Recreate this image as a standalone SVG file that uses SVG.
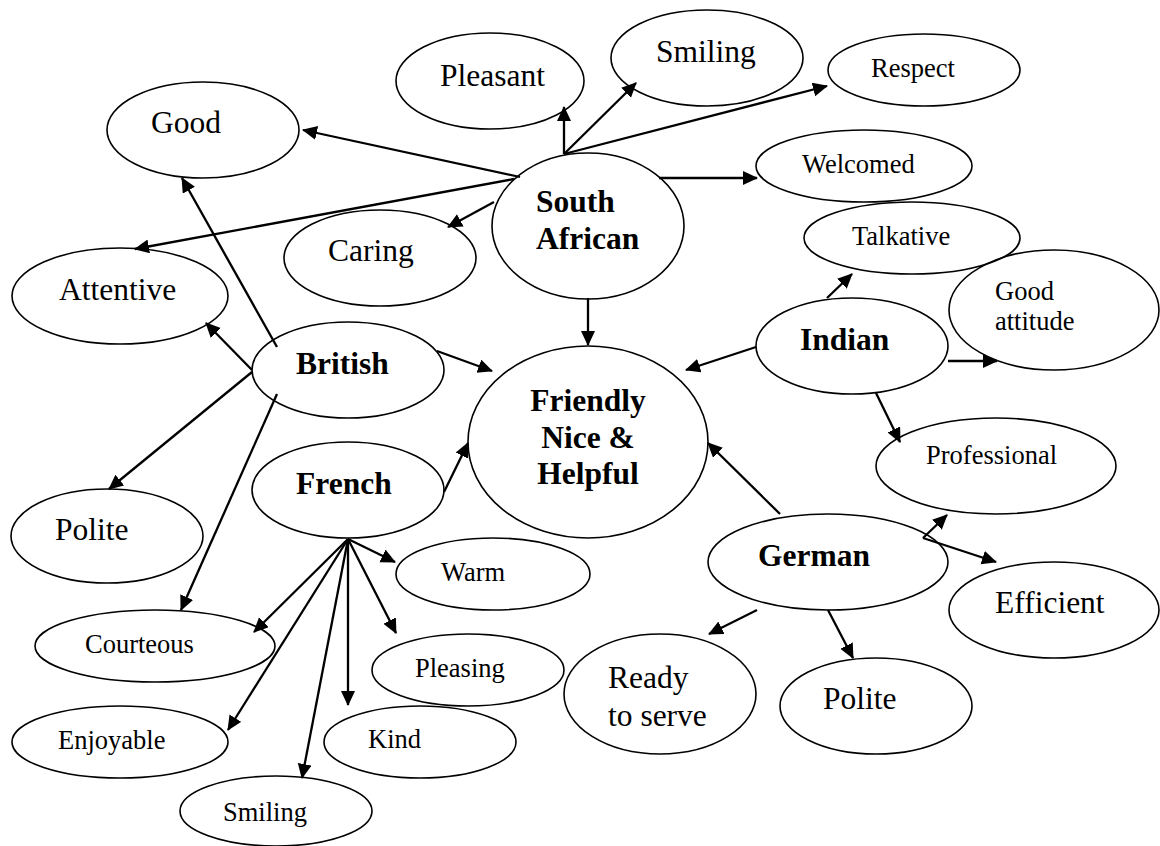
<svg xmlns="http://www.w3.org/2000/svg" width="1160" height="846" viewBox="0 0 1160 846">
  <style>
    .node ellipse { fill: none; stroke: #000; stroke-width: 1.6; }
    .lbl { font-family: "Liberation Serif", "Times New Roman", serif; fill: #000; }
    .big { font-size: 31.5px; }
    .small { font-size: 26.5px; }
    .bold { font-size: 31.5px; font-weight: bold; }
    .conn line { stroke: #000; stroke-width: 2.3; marker-end: url(#ah); }
  </style>
  <defs>
    <marker id="ah" markerUnits="userSpaceOnUse" markerWidth="16" markerHeight="16" refX="14" refY="7" orient="auto">
      <path d="M0,0 L15,7 L0,14 z" fill="#000"/>
    </marker>
  </defs>

  <!-- connectors -->
  <g id="connectors" class="conn">
    <!-- South African -->
    <line x1="564" y1="154" x2="564" y2="107"/>
    <line x1="564" y1="154" x2="636" y2="83"/>
    <line x1="564" y1="154" x2="827" y2="86"/>
    <line x1="659" y1="178" x2="757" y2="178"/>
    <line x1="520" y1="177" x2="303" y2="130"/>
    <line x1="514" y1="179" x2="135" y2="249"/>
    <line x1="494" y1="202" x2="448" y2="227"/>
    <line x1="588" y1="298" x2="588" y2="345"/>
    <!-- British -->
    <line x1="277" y1="347" x2="182" y2="178"/>
    <line x1="252" y1="370" x2="206" y2="323"/>
    <line x1="252" y1="372" x2="109" y2="489"/>
    <line x1="277" y1="394" x2="181" y2="610"/>
    <line x1="437" y1="351" x2="492" y2="371"/>
    <!-- French -->
    <line x1="444" y1="492" x2="468" y2="443"/>
    <line x1="348" y1="539" x2="395" y2="562"/>
    <line x1="348" y1="539" x2="396" y2="633"/>
    <line x1="348" y1="539" x2="348" y2="705"/>
    <line x1="348" y1="539" x2="302" y2="778"/>
    <line x1="348" y1="539" x2="228" y2="730"/>
    <line x1="348" y1="539" x2="254" y2="632"/>
    <!-- Indian -->
    <line x1="756" y1="347" x2="686" y2="370"/>
    <line x1="827" y1="298" x2="852" y2="274"/>
    <line x1="948" y1="361" x2="997" y2="361"/>
    <line x1="876" y1="393" x2="900" y2="442"/>
    <!-- German -->
    <line x1="780" y1="514" x2="708" y2="443"/>
    <line x1="923" y1="538" x2="947" y2="515"/>
    <line x1="923" y1="538" x2="996" y2="562"/>
    <line x1="757" y1="610" x2="709" y2="634"/>
    <line x1="828" y1="610" x2="853" y2="658"/>
  </g>

  <!-- nodes -->
  <g id="pleasant" class="node">
    <ellipse cx="490" cy="81" rx="94" ry="48"/>
    <text class="lbl big" x="440" y="86">Pleasant</text>
  </g>
  <g id="smiling-top" class="node">
    <ellipse cx="707" cy="58" rx="96" ry="48"/>
    <text class="lbl big" x="656" y="62">Smiling</text>
  </g>
  <g id="respect" class="node">
    <ellipse cx="924" cy="70" rx="96" ry="36"/>
    <text class="lbl small" x="871" y="77">Respect</text>
  </g>
  <g id="welcomed" class="node">
    <ellipse cx="864" cy="166" rx="108" ry="36"/>
    <text class="lbl small" x="802" y="173">Welcomed</text>
  </g>
  <g id="good" class="node">
    <ellipse cx="203" cy="130" rx="96" ry="48"/>
    <text class="lbl big" x="151" y="133">Good</text>
  </g>
  <g id="south-african" class="node">
    <ellipse cx="588" cy="226" rx="96" ry="73"/>
    <text class="lbl bold" x="536" y="212">South</text>
    <text class="lbl bold" x="536" y="249">African</text>
  </g>
  <g id="caring" class="node">
    <ellipse cx="380" cy="258" rx="96" ry="48"/>
    <text class="lbl big" x="328" y="261">Caring</text>
  </g>
  <g id="talkative" class="node">
    <ellipse cx="912" cy="238" rx="108" ry="36"/>
    <text class="lbl small" x="852" y="245">Talkative</text>
  </g>
  <g id="attentive" class="node">
    <ellipse cx="120" cy="296" rx="108" ry="48"/>
    <text class="lbl big" x="59" y="300">Attentive</text>
  </g>
  <g id="good-attitude" class="node">
    <ellipse cx="1054" cy="310" rx="105" ry="60"/>
    <text class="lbl small" x="995" y="300">Good</text>
    <text class="lbl small" x="995" y="330">attitude</text>
  </g>
  <g id="indian" class="node">
    <ellipse cx="852" cy="346" rx="96" ry="48"/>
    <text class="lbl bold" x="800" y="350">Indian</text>
  </g>
  <g id="british" class="node">
    <ellipse cx="348" cy="370" rx="96" ry="48"/>
    <text class="lbl bold" x="296" y="374">British</text>
  </g>
  <g id="friendly" class="node">
    <ellipse cx="588" cy="442" rx="120" ry="96"/>
    <text class="lbl bold" x="588" y="411" text-anchor="middle">Friendly</text>
    <text class="lbl bold" x="588" y="448" text-anchor="middle">Nice &amp;</text>
    <text class="lbl bold" x="588" y="484" text-anchor="middle">Helpful</text>
  </g>
  <g id="french" class="node">
    <ellipse cx="348" cy="490" rx="96" ry="48"/>
    <text class="lbl bold" x="296" y="494">French</text>
  </g>
  <g id="professional" class="node">
    <ellipse cx="996" cy="466" rx="120" ry="48"/>
    <text class="lbl small" x="926" y="464">Professional</text>
  </g>
  <g id="polite-left" class="node">
    <ellipse cx="107" cy="536" rx="96" ry="47"/>
    <text class="lbl big" x="55" y="540">Polite</text>
  </g>
  <g id="german" class="node">
    <ellipse cx="828" cy="562" rx="120" ry="48"/>
    <text class="lbl bold" x="758" y="566">German</text>
  </g>
  <g id="warm" class="node">
    <ellipse cx="493" cy="574" rx="97" ry="36"/>
    <text class="lbl small" x="441" y="581">Warm</text>
  </g>
  <g id="efficient" class="node">
    <ellipse cx="1054" cy="610" rx="105" ry="48"/>
    <text class="lbl big" x="995" y="613">Efficient</text>
  </g>
  <g id="courteous" class="node">
    <ellipse cx="155" cy="646" rx="120" ry="36"/>
    <text class="lbl small" x="85" y="653">Courteous</text>
  </g>
  <g id="pleasing" class="node">
    <ellipse cx="468" cy="670" rx="96" ry="36"/>
    <text class="lbl small" x="415" y="677">Pleasing</text>
  </g>
  <g id="ready-to-serve" class="node">
    <ellipse cx="660" cy="694" rx="96" ry="60"/>
    <text class="lbl big" x="608" y="688">Ready</text>
    <text class="lbl big" x="608" y="726">to serve</text>
  </g>
  <g id="polite-right" class="node">
    <ellipse cx="876" cy="706" rx="96" ry="48"/>
    <text class="lbl big" x="823" y="709">Polite</text>
  </g>
  <g id="enjoyable" class="node">
    <ellipse cx="120" cy="742" rx="108" ry="36"/>
    <text class="lbl small" x="58" y="749">Enjoyable</text>
  </g>
  <g id="kind" class="node">
    <ellipse cx="420" cy="742" rx="96" ry="36"/>
    <text class="lbl small" x="368" y="748">Kind</text>
  </g>
  <g id="smiling-bottom" class="node">
    <ellipse cx="276" cy="811" rx="96" ry="35"/>
    <text class="lbl small" x="223" y="821">Smiling</text>
  </g>
</svg>
